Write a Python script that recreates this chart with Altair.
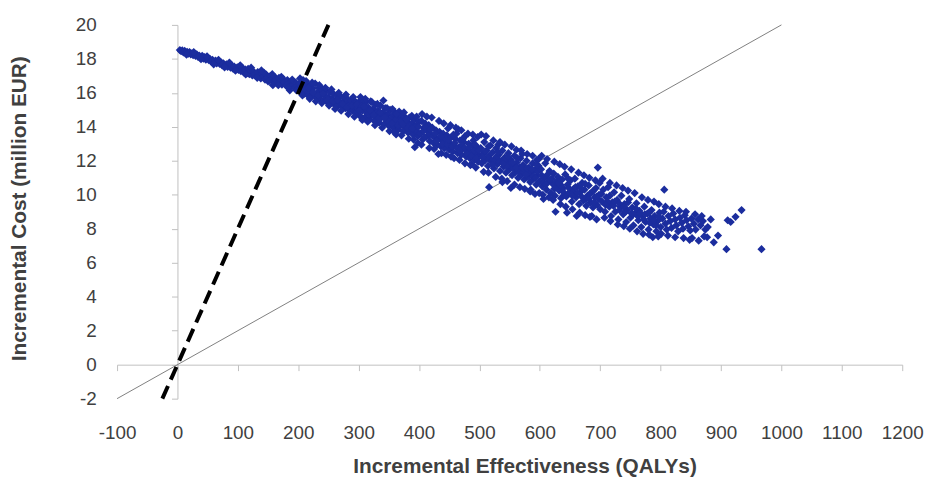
import altair as alt
import pandas as pd

# ---- axis ticks ----
x_ticks = [-100, 0, 100, 200, 300, 400, 500, 600, 700, 800, 900, 1000, 1100, 1200]
y_ticks = [-2, 0, 2, 4, 6, 8, 10, 12, 14, 16, 18, 20]

# ---- threshold lines (QALYs, million EUR) ----
wtp20_x = [-100, 1000]
wtp20_y = [-2, 20]
wtp80_x = [-25, 250]
wtp80_y = [-2, 20]

# ---- simulated ICER cloud: (effect QALYs, cost million EUR) ----
seg_0_100 = [
    (4, 18.52), (6, 18.45), (8, 18.5), (10, 18.38), (12, 18.47), (14, 18.36), (16, 18.42), (18, 18.3),
    (20, 18.4), (22, 18.27), (24, 18.33), (26, 18.22), (28, 18.31), (30, 18.17), (32, 18.26), (34, 18.12),
    (36, 18.2), (38, 18.06), (41, 18.18), (43, 18.02), (45, 18.1), (47, 17.95), (50, 18.06), (52, 17.92),
    (54, 17.99), (56, 17.84), (58, 17.95), (61, 17.8), (63, 17.9), (65, 17.73), (67, 17.84), (70, 17.7),
    (72, 17.8), (74, 17.62), (76, 17.74), (79, 17.58), (81, 17.68), (83, 17.52), (85, 17.64), (88, 17.48),
    (90, 17.6), (92, 17.43), (94, 17.55), (97, 17.38), (99, 17.5),
]
seg_100_200 = [
    (101, 17.35), (103, 17.55), (105, 17.28), (108, 17.45), (110, 17.2), (112, 17.38), (115, 17.15),
    (117, 17.42), (119, 17.1), (121, 17.3), (124, 17.02), (126, 17.25), (128, 17.12), (131, 16.95),
    (133, 17.22), (135, 17.05), (138, 16.85), (140, 17.15), (142, 16.95), (145, 16.78), (147, 17.08),
    (149, 16.9), (152, 16.7), (154, 17.0), (156, 16.82), (159, 16.62), (161, 16.95), (163, 16.75),
    (166, 16.55), (168, 16.88), (170, 16.68), (173, 16.48), (175, 16.82), (177, 16.6), (180, 16.42),
    (182, 16.75), (184, 16.55), (187, 16.35), (189, 16.68), (191, 16.48), (194, 16.3), (196, 16.6),
    (198, 16.4), (200, 16.2), (158, 16.45), (186, 16.15), (143, 17.2),
]
seg_left_edge = [
    (15, 18.25), (27, 18.4), (39, 17.98), (49, 18.15), (60, 17.68), (68, 17.95), (78, 17.5),
    (86, 17.78), (96, 17.3), (104, 17.62), (113, 17.08), (122, 17.48), (132, 16.88), (139, 17.32),
    (150, 16.68), (157, 17.1), (167, 16.45), (172, 16.95), (183, 16.32), (190, 16.78), (197, 16.15),
]
seg_200_300 = [
    (202, 16.55), (204, 16.05), (206, 16.35), (208, 16.75), (210, 15.95), (212, 16.2), (214, 16.5),
    (216, 15.85), (218, 16.1), (220, 16.4), (222, 15.8), (224, 16.25), (226, 15.95), (228, 16.55),
    (230, 15.7), (232, 16.05), (234, 16.3), (236, 15.62), (238, 15.9), (240, 16.2), (242, 15.55),
    (244, 15.82), (246, 16.1), (248, 15.45), (250, 15.75), (252, 16.05), (254, 15.4), (256, 15.65),
    (258, 15.95), (260, 15.3), (262, 15.58), (264, 15.85), (266, 15.25), (268, 15.5), (270, 15.8),
    (272, 15.2), (274, 15.45), (276, 15.7), (278, 15.1), (280, 15.38), (282, 15.62), (284, 15.0),
    (286, 15.3), (288, 15.55), (290, 14.95), (292, 15.2), (294, 15.5), (296, 14.85), (298, 15.12),
    (300, 15.4), (209, 16.55), (217, 16.3), (225, 16.0), (233, 15.85), (241, 15.95), (249, 15.6),
    (257, 15.5), (265, 15.6), (273, 15.35), (281, 15.15), (289, 15.25), (297, 15.3),
]
seg_300_400 = [
    (302, 14.65), (304, 15.6), (306, 14.95), (308, 15.3), (310, 14.55), (312, 15.45), (314, 14.8),
    (316, 15.15), (318, 14.45), (320, 15.5), (322, 14.7), (324, 15.05), (326, 14.35), (328, 15.3),
    (330, 14.6), (332, 14.95), (334, 14.25), (336, 15.25), (338, 14.55), (340, 14.85), (342, 14.15),
    (344, 15.1), (346, 14.4), (348, 14.75), (350, 14.05), (352, 15.0), (354, 14.3), (356, 14.65),
    (358, 13.95), (360, 14.85), (362, 14.2), (364, 14.55), (366, 13.85), (368, 14.75), (370, 14.1),
    (372, 14.45), (374, 13.75), (376, 14.6), (378, 13.95), (380, 14.3), (382, 13.65), (384, 14.55),
    (386, 13.85), (388, 14.2), (390, 13.55), (392, 14.4), (394, 13.75), (396, 14.1), (398, 13.45),
    (400, 14.3), (305, 15.2), (313, 15.0), (321, 14.9), (329, 14.8), (337, 14.7), (345, 14.6),
    (353, 14.45), (361, 14.4), (369, 14.3), (377, 14.15), (385, 14.05), (393, 13.95), (317, 14.75),
    (333, 14.5), (349, 14.35), (365, 14.1), (381, 13.95), (397, 13.7), (393, 12.8), (398, 13.05),
    (362, 13.55), (341, 15.55),
]
seg_400_500 = [
    (402, 13.6), (404, 14.35), (406, 13.25), (408, 13.95), (410, 14.2), (412, 13.4), (414, 13.75),
    (416, 14.1), (418, 13.15), (420, 13.55), (422, 13.95), (424, 13.05), (426, 13.4), (428, 13.8),
    (430, 12.95), (432, 13.3), (434, 13.7), (436, 12.85), (438, 13.2), (440, 13.6), (442, 12.75),
    (444, 13.1), (446, 13.5), (448, 13.9), (450, 12.65), (452, 13.0), (454, 13.4), (456, 12.55),
    (458, 12.9), (460, 13.3), (462, 13.6), (464, 12.45), (466, 12.8), (468, 13.2), (470, 12.35),
    (472, 12.7), (474, 13.1), (476, 13.45), (478, 12.25), (480, 12.6), (482, 13.0), (484, 12.15),
    (486, 12.5), (488, 12.9), (490, 13.2), (492, 12.05), (494, 12.4), (496, 12.8), (498, 11.95),
    (500, 12.3), (407, 13.75), (415, 13.5), (423, 13.45), (431, 13.25), (439, 13.0), (447, 12.95),
    (455, 12.85), (463, 12.75), (471, 12.9), (479, 12.45), (487, 12.3), (495, 12.15), (411, 13.95),
    (427, 13.6), (443, 13.35), (459, 13.05), (475, 12.75), (491, 12.6), (432, 12.4), (465, 13.85),
    (487, 11.8), (458, 12.15),
]
seg_500_600 = [
    (502, 12.75), (504, 11.85), (506, 12.4), (508, 13.1), (510, 12.05), (512, 12.6), (514, 11.7),
    (516, 12.3), (518, 12.9), (520, 11.95), (522, 12.5), (524, 11.55), (526, 12.15), (528, 12.75),
    (530, 11.8), (532, 12.35), (534, 11.4), (536, 12.0), (538, 12.6), (540, 11.65), (542, 12.2),
    (544, 11.3), (546, 11.9), (548, 12.45), (550, 11.5), (552, 12.05), (554, 11.15), (556, 11.75),
    (558, 12.3), (560, 11.35), (562, 11.9), (564, 11.0), (566, 11.6), (568, 12.15), (570, 11.2),
    (572, 11.75), (574, 10.9), (576, 11.45), (578, 12.0), (580, 11.05), (582, 11.6), (584, 10.75),
    (586, 11.3), (588, 11.85), (590, 10.95), (592, 11.45), (594, 10.6), (596, 11.15), (598, 11.7),
    (600, 10.8), (509, 12.55), (517, 12.1), (525, 12.0), (533, 11.95), (541, 12.0), (549, 11.75),
    (557, 11.55), (565, 11.35), (573, 11.35), (581, 11.3), (589, 11.1), (597, 11.4), (513, 12.2),
    (529, 12.25), (545, 11.7), (561, 11.6), (577, 11.2), (593, 11.0), (516, 10.45), (552, 10.4),
    (538, 10.75), (531, 12.95), (571, 12.4), (585, 10.3), (595, 12.05),
]
seg_600_700 = [
    (602, 11.5), (604, 10.5), (607, 11.0), (609, 11.85), (611, 10.3), (614, 10.8), (616, 11.4),
    (618, 10.1), (621, 10.65), (623, 11.25), (625, 9.95), (628, 10.5), (630, 11.05), (632, 10.25),
    (635, 9.8), (637, 10.9), (639, 10.4), (642, 11.2), (644, 9.9), (646, 10.6), (649, 10.15),
    (651, 10.85), (653, 9.6), (656, 10.35), (658, 10.95), (660, 9.85), (663, 10.5), (665, 9.45),
    (667, 10.15), (670, 10.7), (672, 9.65), (674, 10.3), (677, 9.35), (679, 9.95), (681, 10.55),
    (684, 9.55), (686, 10.15), (688, 9.25), (691, 9.85), (693, 10.4), (695, 9.4), (698, 10.0),
    (700, 9.15), (606, 10.7), (613, 11.2), (620, 10.95), (627, 10.75), (634, 10.6), (641, 10.0),
    (648, 10.4), (655, 10.15), (662, 10.1), (669, 9.9), (676, 9.75), (683, 10.05), (690, 9.55),
    (697, 9.75), (696, 11.6), (606, 9.75), (626, 9.0), (661, 8.75), (645, 8.95), (686, 8.75),
]
seg_700_800 = [
    (703, 9.6), (705, 10.3), (708, 9.0), (710, 9.85), (713, 10.45), (715, 9.3), (718, 8.75),
    (720, 9.55), (723, 10.15), (725, 9.0), (728, 9.7), (730, 8.55), (733, 9.3), (735, 9.95),
    (738, 8.85), (740, 9.45), (743, 8.4), (745, 9.1), (748, 9.75), (750, 8.65), (753, 9.25),
    (755, 8.2), (758, 8.9), (760, 9.5), (763, 8.5), (765, 9.05), (768, 8.1), (770, 8.75),
    (773, 9.3), (775, 8.4), (778, 8.9), (780, 7.95), (783, 8.6), (785, 9.1), (788, 8.25),
    (790, 8.75), (793, 7.85), (795, 8.45), (798, 8.95), (800, 8.1), (712, 9.6), (722, 9.35),
    (732, 9.1), (742, 9.0), (752, 8.9), (762, 8.75), (772, 8.55), (782, 8.35), (792, 8.2),
    (806, 10.3), (801, 7.7), (787, 7.5),
]
seg_800_970 = [
    (803, 8.6), (805, 9.0), (808, 8.3), (810, 7.95), (813, 8.75), (816, 8.45), (818, 8.05),
    (821, 8.9), (824, 8.55), (826, 8.2), (829, 7.85), (832, 8.65), (835, 8.35), (837, 8.0),
    (840, 8.8), (843, 8.5), (846, 8.15), (849, 7.9), (851, 8.6), (855, 8.3), (858, 7.95),
    (862, 8.55), (866, 8.2), (870, 8.45), (874, 7.95), (878, 8.1), (852, 7.45), (877, 7.5),
    (888, 7.2), (909, 6.8), (911, 8.5), (916, 8.4), (924, 8.7), (934, 9.1), (967, 6.8),
]
# upper and lower fringe of the cloud, and extra interior points
band_upper = [
    (203, 16.85), (213, 16.7), (223, 16.6), (235, 16.45), (245, 16.3), (255, 16.2), (267, 16.0),
    (279, 15.9), (291, 15.75), (303, 15.75), (311, 15.65), (322, 15.45), (331, 15.35), (347, 15.1),
    (356, 15.05), (367, 14.9), (375, 14.85), (388, 14.65), (396, 14.6), (405, 14.75), (413, 14.6),
    (421, 14.55), (433, 14.35), (441, 14.2), (452, 14.1), (461, 13.95), (470, 13.8), (481, 13.6),
    (489, 13.55), (497, 13.4), (503, 13.55), (511, 13.45), (523, 13.2), (534, 13.1), (542, 12.95),
    (553, 12.85), (561, 12.65), (569, 12.6), (579, 12.4), (588, 12.3), (598, 12.1), (603, 12.3),
    (612, 12.1), (624, 11.95), (633, 11.8), (641, 11.65), (652, 11.5), (664, 11.3), (673, 11.15),
    (682, 11.0), (692, 10.85), (699, 10.7), (704, 10.95), (716, 10.7), (727, 10.55), (737, 10.4),
    (746, 10.25), (757, 10.1), (769, 9.85), (779, 9.7), (789, 9.6), (797, 9.45), (808, 9.3),
    (819, 9.2), (831, 9.05), (842, 9.0), (857, 8.85), (868, 8.75), (883, 8.55),
]
band_lower = [
    (207, 15.85), (219, 15.65), (229, 15.5), (239, 15.4), (251, 15.25), (261, 15.05), (271, 14.95),
    (283, 14.75), (293, 14.6), (306, 14.4), (315, 14.3), (327, 14.1), (339, 13.95), (351, 13.75),
    (359, 13.7), (371, 13.5), (383, 13.3), (391, 13.25), (404, 12.95), (417, 12.75), (425, 12.7),
    (437, 12.45), (445, 12.35), (453, 12.25), (467, 12.05), (476, 11.85), (485, 11.75), (494, 11.6),
    (507, 11.35), (515, 11.3), (527, 11.05), (537, 10.95), (546, 10.8), (558, 10.6), (567, 10.45),
    (575, 10.35), (584, 10.2), (592, 10.05), (599, 10.1), (605, 10.0), (615, 9.85), (622, 9.7),
    (634, 9.45), (643, 9.3), (654, 9.15), (666, 8.95), (675, 8.8), (683, 8.7), (694, 8.55),
    (707, 8.65), (717, 8.45), (729, 8.25), (739, 8.15), (749, 8.0), (761, 7.85), (771, 7.7),
    (781, 7.65), (796, 7.55), (812, 7.6), (824, 7.5), (838, 7.45), (848, 7.35), (863, 7.3),
    (872, 7.55), (895, 7.6),
]
band_fill = [
    (301, 14.95), (309, 15.2), (319, 14.95), (325, 14.7), (335, 14.85), (343, 14.55), (355, 14.2),
    (363, 14.75), (373, 14.15), (379, 14.45), (389, 13.9), (399, 14.0), (409, 13.4), (419, 13.85),
    (429, 13.15), (436, 13.45), (449, 13.25), (457, 13.55), (467, 12.6), (473, 13.3), (483, 12.8),
    (493, 12.95), (499, 12.6), (505, 12.2), (515, 12.85), (521, 11.75), (531, 12.5), (539, 11.85),
    (547, 12.25), (555, 11.9), (563, 12.15), (571, 11.6), (579, 11.55), (587, 11.5), (595, 11.75),
    (603, 11.15), (610, 10.6), (617, 10.9), (624, 10.35), (631, 10.7), (638, 10.2), (647, 10.95),
    (654, 9.95), (659, 10.45), (668, 10.4), (675, 10.65), (681, 9.75), (689, 10.25), (694, 9.9),
    (702, 10.05), (709, 9.4), (716, 9.95), (724, 9.6), (731, 9.5), (739, 9.3), (746, 9.55),
    (754, 8.85), (759, 9.2), (766, 8.9), (774, 8.85), (781, 8.95), (789, 8.5), (797, 8.7),
]

rows = []
for seg in [seg_0_100, seg_100_200, seg_left_edge, seg_200_300, seg_300_400, seg_400_500,
            seg_500_600, seg_600_700, seg_700_800, seg_800_970,
            band_upper, band_lower, band_fill]:
    for ex, c in seg:
        rows.append({"x": ex, "y": c})
cloud = pd.DataFrame(rows)

line20 = pd.DataFrame({"x": wtp20_x, "y": wtp20_y})
line80 = pd.DataFrame({"x": wtp80_x, "y": wtp80_y})

W, H = 792, 377
FONT = "Liberation Sans"
TXT = "#404040"
AX = "#c0c0c0"

xscale = alt.Scale(domain=[-100, 1200], nice=False, zero=False)
yscale = alt.Scale(domain=[-2, 20], nice=False, zero=False)

x_axis = alt.Axis(
    values=x_ticks, title="Incremental Effectiveness (QALYs)", grid=False,
    offset=-(2 / 22) * H, domainColor=AX, tickColor=AX, tickSize=6,
    labelPadding=53, labelFontSize=19, labelColor=TXT, labelFont=FONT,
    labelFlush=False, labelOverlap=False, labelExpr="'' + datum.value",
    titleFont=FONT, titleFontSize=21, titleFontWeight="bold", titleColor=TXT,
    titleX=411, titleY=103, titleBaseline="middle", titleAlign="center",
)
y_axis = alt.Axis(
    values=y_ticks, title="Incremental Cost (million EUR)", grid=False,
    offset=-(100 / 1300) * W, domainColor=AX, tickColor=AX, tickSize=6,
    labelPadding=76, labelFontSize=19, labelColor=TXT, labelFont=FONT,
    labelFlush=False, labelOverlap=False, labelExpr="'' + datum.value",
    titleFont=FONT, titleFontSize=21, titleFontWeight="bold", titleColor=TXT,
    titleX=-159, titleY=185, titleBaseline="middle", titleAlign="center", titleAngle=270,
)

X = alt.X("x:Q", scale=xscale, axis=x_axis)
Y = alt.Y("y:Q", scale=yscale, axis=y_axis)

gray = alt.Chart(line20).mark_line(color="#808080", strokeWidth=1).encode(x=X, y=Y)
pts = alt.Chart(cloud).mark_point(shape="diamond", filled=True, size=68, opacity=1,
                                   color="#1b2d9e").encode(x=X, y=Y)
dash = alt.Chart(line80).mark_line(color="black", strokeWidth=4,
                                   strokeDash=[14, 7]).encode(x=X, y=Y)

chart = alt.layer(gray, pts, dash).properties(
    width=W, height=H,
    autosize=alt.AutoSizeParams(type="none"),
    padding={"left": 110, "top": 15, "right": 26, "bottom": 79},
    background="white",
).configure_view(stroke=None)

chart.save("out.html", embed_options={"renderer": "svg", "actions": False})
